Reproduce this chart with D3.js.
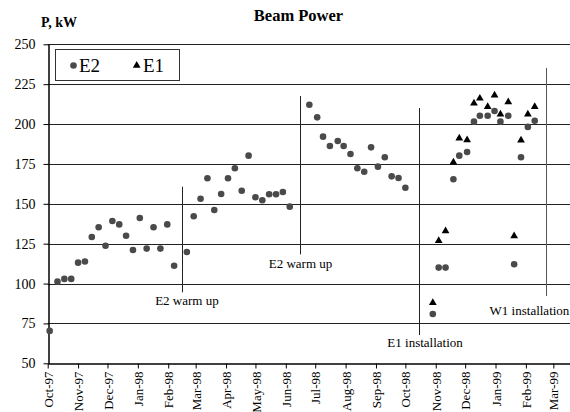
<!DOCTYPE html>
<html>
<head>
<meta charset="utf-8">
<script src="https://cdn.jsdelivr.net/npm/d3@7"></script>
<style>
  body { margin: 0; background: #fff; }
  svg text { font-family: "Liberation Serif", "Times New Roman", serif; fill: #000; }
</style>
</head>
<body>
<div id="chart"></div>
<script>
// weekly beam power readings, kW
const e2Dates = [
  '1997-10-03', '1997-10-11', '1997-10-18', '1997-10-25', '1997-11-01', '1997-11-08',
  '1997-11-15', '1997-11-22', '1997-11-29', '1997-12-06', '1997-12-13', '1997-12-20',
  '1997-12-27', '1998-01-03', '1998-01-10', '1998-01-17', '1998-01-24', '1998-01-31',
  '1998-02-07', '1998-02-20', '1998-02-27', '1998-03-06', '1998-03-13', '1998-03-20',
  '1998-03-27', '1998-04-03', '1998-04-10', '1998-04-17', '1998-04-24', '1998-05-01',
  '1998-05-08', '1998-05-15', '1998-05-22', '1998-05-29', '1998-06-05', '1998-06-25',
  '1998-07-03', '1998-07-09', '1998-07-16', '1998-07-24', '1998-07-30', '1998-08-06',
  '1998-08-13', '1998-08-20', '1998-08-27', '1998-09-03', '1998-09-10', '1998-09-17',
  '1998-09-24', '1998-10-01', '1998-10-29', '1998-11-04', '1998-11-11', '1998-11-19',
  '1998-11-25', '1998-12-03', '1998-12-10', '1998-12-16', '1998-12-24', '1998-12-31',
  '1999-01-06', '1999-01-14', '1999-01-20', '1999-01-27', '1999-02-03', '1999-02-10'
]
const e2Values = [
  70.3, 101.2, 102.9, 102.9, 113.1, 113.8,
  129.2, 135.3, 123.7, 139.2, 137.1, 130,
  121, 141.1, 121.9, 135.3, 121.9, 137.1,
  111.2, 119.8, 142.2, 153.2, 166, 146.1,
  156.1, 166, 172.3, 158.2, 180.2, 154.1,
  152.2, 156, 156, 157.4, 148.2, 212.1,
  204.2, 192.1, 186.2, 189.4, 186.2, 181.2,
  172.3, 170.1, 185.4, 173.3, 179.2, 167.2,
  166.2, 160.1, 80.9, 110, 110, 165.4,
  180.2, 182.5, 201.5, 205.2, 205.2, 208.2,
  201.5, 205.2, 112.1, 179.2, 198.2, 202.1
]
const e1Dates = [
  '1998-10-29', '1998-11-04', '1998-11-11', '1998-11-19', '1998-11-25', '1998-12-03',
  '1998-12-10', '1998-12-16', '1998-12-24', '1998-12-31', '1999-01-06', '1999-01-14',
  '1999-01-20', '1999-01-27', '1999-02-03', '1999-02-10'
]
const e1Values = [
  88, 126.9, 133, 176, 191.1, 190,
  213, 216.1, 210.9, 218, 206.1, 213.8,
  129.8, 189.8, 206.1, 210.9
]
const yTicks = [50, 75, 100, 125, 150, 175, 200, 225, 250]

// event markers drawn on the chart: date, value span of the line, label
const eventLabels = ['E2 warm up', 'E2 warm up', 'E1 installation', 'W1 installation']
const eventDates = ['1998-02-15', '1998-06-15', '1998-10-15', '1999-02-22']
const eventFrom = [94.5, 118.3, 67.7, 92.2]
const eventTo = [160.7, 217.6, 210, 235.1]

const width = 570
const height = 412
const margin = { top: 44.3, left: 47.7, right: 0, bottom: 48.7 }
const parse = d3.timeParse('%Y-%m-%d')

const x = d3.scaleTime()
  .domain([new Date(1997, 9, 1), new Date(1999, 2, 18)])
  .range([margin.left, width - margin.right])
const y = d3.scaleLinear()
  .domain([50, 250])
  .range([height - margin.bottom, margin.top])

const svg = d3.select('#chart')
  .append('svg')
  .attr('width', width)
  .attr('height', height)

// title and unit
svg.append('text')
  .attr('x', 298.5).attr('y', 20.7)
  .attr('text-anchor', 'middle')
  .style('font-weight', 'bold')
  .style('font-size', '16.5px')
  .text('Beam Power')

svg.append('text')
  .attr('x', 41).attr('y', 26.5)
  .style('font-weight', 'bold')
  .style('font-size', '14px')
  .text('P, kW')

// horizontal grid
svg.append('g')
  .attr('class', 'grid')
  .selectAll('line')
  .data(yTicks.slice(1))
  .enter()
  .append('line')
  .attr('x1', margin.left)
  .attr('x2', width)
  .attr('y1', d => Math.round(y(d)) + 0.5)
  .attr('y2', d => Math.round(y(d)) + 0.5)
  .attr('stroke', '#222')
  .attr('stroke-width', 1)

// y-axis
const yAxis = d3.axisLeft(y)
  .tickValues(yTicks)
  .tickSize(5)
  .tickSizeOuter(0)
  .tickPadding(8)
svg.append('g')
  .attr('class', 'y-axis')
  .attr('transform', `translate(${Math.round(margin.left) + 0.5}, 0)`)
  .call(yAxis)
  .call(g => g.selectAll('.tick line').attr('stroke', '#000'))
  .call(g => g.select('.domain').attr('stroke', '#000').attr('stroke-width', 1.5))
  .call(g => g.selectAll('text')
    .style('font-size', '14px')
    .style('font-family', '"Liberation Serif", serif'))

// x-axis
const months = d3.timeMonth.range(new Date(1997, 9, 1), new Date(1999, 2, 2))
const xAxis = d3.axisBottom(x)
  .tickValues(months)
  .tickFormat(d3.timeFormat('%b-%y'))
  .tickSize(5)
  .tickSizeOuter(0)
svg.append('g')
  .attr('class', 'x-axis')
  .attr('transform', `translate(0, ${Math.round(y(50)) + 0.5})`)
  .call(xAxis)
  .call(g => g.select('.domain').attr('stroke', '#000').attr('stroke-width', 1.5))
  .call(g => g.selectAll('.tick line').attr('stroke', '#000'))
  .call(g => g.selectAll('text')
    .style('font-size', '13px')
    .style('font-family', '"Liberation Serif", serif')
    .attr('text-anchor', 'end')
    .attr('transform', 'rotate(-90)')
    .attr('x', -8)
    .attr('y', 0)
    .attr('dy', '0.35em'))

// event lines and labels
const events = eventLabels.map((label, i) => ({
  label, date: parse(eventDates[i]), from: eventFrom[i], to: eventTo[i]
}))
const labelOffsets = [
  { dx: 5, dy: 13 },
  { dx: 1, dy: 14 },
  { dx: 6, dy: 12 },
  { dx: -17, dy: 19 }
]
const ev = svg.append('g').attr('class', 'events')
ev.selectAll('line')
  .data(events)
  .enter()
  .append('line')
  .attr('x1', d => Math.round(x(d.date)) + 0.5)
  .attr('x2', d => Math.round(x(d.date)) + 0.5)
  .attr('y1', d => y(d.from))
  .attr('y2', d => y(d.to))
  .attr('stroke', (d, i) => i === 3 ? '#555' : '#222')
  .attr('stroke-width', 1)
ev.selectAll('text')
  .data(events)
  .enter()
  .append('text')
  .attr('x', (d, i) => x(d.date) + labelOffsets[i].dx)
  .attr('y', (d, i) => y(d.from) + labelOffsets[i].dy)
  .attr('text-anchor', 'middle')
  .style('font-size', '13px')
  .text(d => d.label)

// E2 circles
svg.append('g')
  .attr('class', 'e2')
  .selectAll('circle')
  .data(e2Dates.map((d, i) => ({ date: parse(d), value: e2Values[i] })))
  .enter()
  .append('circle')
  .attr('cx', d => x(d.date))
  .attr('cy', d => y(d.value))
  .attr('r', 3.3)
  .attr('fill', '#4a4a4a')

// E1 triangles
const tri = d3.symbol().type(d3.symbolTriangle).size(26)
svg.append('g')
  .attr('class', 'e1')
  .selectAll('path')
  .data(e1Dates.map((d, i) => ({ date: parse(d), value: e1Values[i] })))
  .enter()
  .append('path')
  .attr('d', tri)
  .attr('transform', d => `translate(${x(d.date)}, ${y(d.value)})`)
  .attr('fill', '#000')

// legend
const legend = svg.append('g').attr('class', 'legend')
legend.append('rect')
  .attr('x', 55.5).attr('y', 49.5)
  .attr('width', 124).attr('height', 31)
  .attr('fill', '#fff')
  .attr('stroke', '#333')
legend.append('circle')
  .attr('cx', 73.5).attr('cy', 65.5).attr('r', 3.3)
  .attr('fill', '#4a4a4a')
legend.append('text')
  .attr('x', 79).attr('y', 72)
  .style('font-size', '19px')
  .text('E2')
legend.append('path')
  .attr('d', tri)
  .attr('transform', 'translate(136.7, 65.5)')
  .attr('fill', '#000')
legend.append('text')
  .attr('x', 143).attr('y', 72)
  .style('font-size', '19px')
  .text('E1')
</script>
</body>
</html>
